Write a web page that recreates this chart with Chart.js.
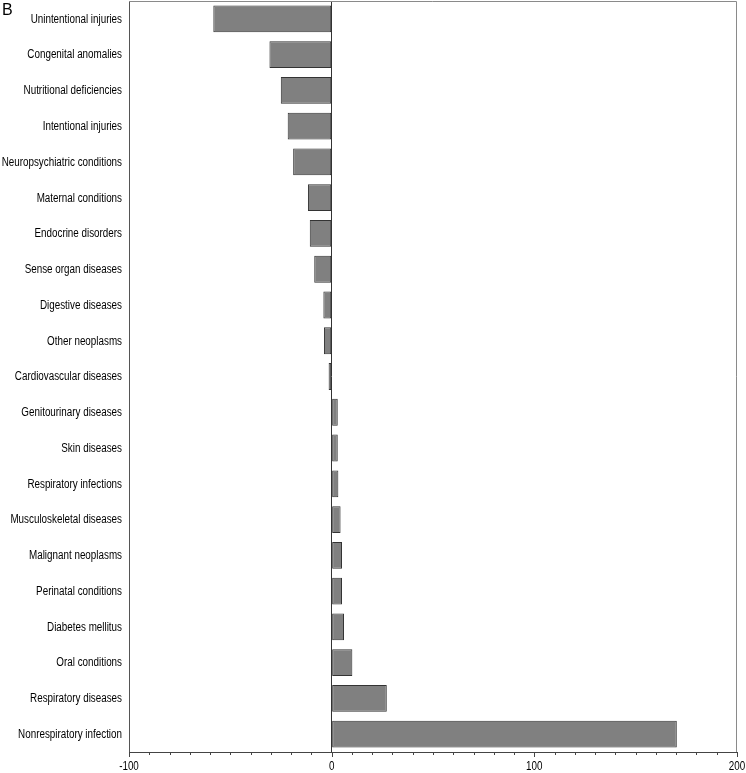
<!DOCTYPE html>
<html>
<head>
<meta charset="utf-8">
<script src="https://cdn.jsdelivr.net/npm/chart.js@4/dist/chart.umd.min.js"></script>
<style>
  body { margin: 0; background: #fff; }
  #wrap { position: relative; width: 746px; height: 773px; }
  #panel { position: absolute; left: 2px; top: 1px; font: 16px 'Liberation Sans', Arial, sans-serif; color: #000; }
</style>
</head>
<body>
<div id="wrap">
  <canvas id="grafico" width="746" height="773"></canvas>
  <div id="panel">B</div>
</div>
<script>
var categorias = [
    'Unintentional injuries',
    'Congenital anomalies',
    'Nutritional deficiencies',
    'Intentional injuries',
    'Neuropsychiatric conditions',
    'Maternal conditions',
    'Endocrine disorders',
    'Sense organ diseases',
    'Digestive diseases',
    'Other neoplasms',
    'Cardiovascular diseases',
    'Genitourinary diseases',
    'Skin diseases',
    'Respiratory infections',
    'Musculoskeletal diseases',
    'Malignant neoplasms',
    'Perinatal conditions',
    'Diabetes mellitus',
    'Oral conditions',
    'Respiratory diseases',
    'Nonrespiratory infection'
];

var valores = [-58.4, -30.7, -25.1, -21.7, -19.0, -11.7, -10.8, -8.6, -4.1, -3.8, -1.5,
    3.0, 3.0, 3.3, 4.4, 5.1, 5.1, 6.1, 10.2, 27.2, 170.3];

var eixoMin = -100;
var eixoMax = 200;
var passoMenor = 10;
var rotulosEixo = [-100, 0, 100, 200];

var fonte = "'Liberation Sans', Arial, sans-serif";
var estreito = 0.82; // o original usa uma fonte estreita (tipo Arial Narrow)

// moldura (topo e direita), marcas do eixo x e rotulos estreitos
var molduraPlugin = {
    id: 'moldura',
    afterDraw: function (chart) {
        var ctx = chart.ctx;
        var area = chart.chartArea;
        var x = chart.scales.x;
        var y = chart.scales.y;
        ctx.save();
        ctx.strokeStyle = '#8a8a8a';
        ctx.lineWidth = 1;
        ctx.beginPath();
        ctx.moveTo(area.left, area.top + 0.5);
        ctx.lineTo(area.right - 0.5, area.top + 0.5);
        ctx.lineTo(area.right - 0.5, area.bottom);
        ctx.stroke();

        ctx.strokeStyle = '#444';
        ctx.beginPath();
        for (var v = eixoMin; v <= eixoMax; v += passoMenor) {
            var px = Math.round(x.getPixelForValue(v)) + 0.5;
            var len = rotulosEixo.indexOf(v) >= 0 ? 5 : 3;
            ctx.moveTo(px, area.bottom);
            ctx.lineTo(px, area.bottom + len);
        }
        ctx.stroke();

        ctx.fillStyle = '#000';
        ctx.font = '12px ' + fonte;
        ctx.textBaseline = 'middle';
        ctx.textAlign = 'right';
        for (var i = 0; i < categorias.length; i++) {
            ctx.save();
            ctx.translate(area.left - 7, y.getPixelForTick(i) + 0.5);
            ctx.scale(estreito, 1);
            ctx.fillText(categorias[i], 0, 0);
            ctx.restore();
        }

        ctx.textAlign = 'center';
        ctx.textBaseline = 'top';
        for (var k = 0; k < rotulosEixo.length; k++) {
            ctx.save();
            ctx.translate(x.getPixelForValue(rotulosEixo[k]), area.bottom + 9);
            ctx.scale(estreito, 1);
            ctx.fillText(String(rotulosEixo[k]), 0, 0);
            ctx.restore();
        }
        ctx.restore();
    }
};

var ctx = document.getElementById('grafico').getContext('2d');
new Chart(ctx, {
    type: 'bar',
    data: {
        labels: categorias,
        datasets: [{
            data: valores,
            backgroundColor: '#808080',
            borderColor: '#333',
            borderWidth: 1,
            borderSkipped: false,
            categoryPercentage: 1,
            barPercentage: 0.75
        }]
    },
    options: {
        indexAxis: 'y',
        responsive: false,
        animation: false,
        layout: { padding: { top: 1, right: 9, left: 0, bottom: 0 } },
        plugins: {
            legend: { display: false },
            tooltip: { enabled: false }
        },
        scales: {
            x: {
                min: eixoMin,
                max: eixoMax,
                afterFit: function (scale) {
                    scale.height = 21;
                    scale.paddingLeft = 0;
                    scale.paddingRight = 0;
                },
                border: { display: true, color: '#444', width: 1 },
                grid: {
                    drawTicks: false,
                    color: function (c) { return c.tick && c.tick.value === 0 ? '#333' : 'rgba(0,0,0,0)'; }
                },
                ticks: { display: false, stepSize: passoMenor }
            },
            y: {
                afterFit: function (scale) {
                    scale.width = 129;
                    scale.paddingTop = 0;
                    scale.paddingBottom = 0;
                },
                border: { display: true, color: '#555', width: 1 },
                grid: { display: false, drawTicks: false },
                ticks: { display: false }
            }
        }
    },
    plugins: [molduraPlugin]
});
</script>
</body>
</html>
